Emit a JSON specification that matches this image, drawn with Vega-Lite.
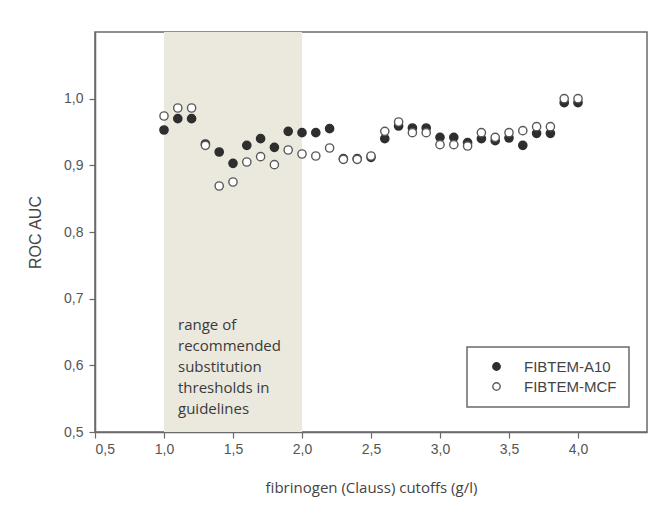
{
  "$schema": "https://vega.github.io/schema/vega-lite/v6.json",
  "autosize": {"type": "none"},
  "padding": {"left": 95, "top": 32, "right": 22, "bottom": 88},
  "width": 552,
  "height": 400,
  "background": "#ffffff",
  "datasets": {
    "band": [{"start": 1.0, "end": 2.0, "label": ["range of", "recommended", "substitution", "thresholds in", "guidelines"]}],
    "auc": [
      {"cutoff": 1.0, "series": "FIBTEM-A10", "auc": 0.953},
      {"cutoff": 1.1, "series": "FIBTEM-A10", "auc": 0.970},
      {"cutoff": 1.2, "series": "FIBTEM-A10", "auc": 0.970},
      {"cutoff": 1.3, "series": "FIBTEM-A10", "auc": 0.932},
      {"cutoff": 1.4, "series": "FIBTEM-A10", "auc": 0.920},
      {"cutoff": 1.5, "series": "FIBTEM-A10", "auc": 0.903},
      {"cutoff": 1.6, "series": "FIBTEM-A10", "auc": 0.930},
      {"cutoff": 1.7, "series": "FIBTEM-A10", "auc": 0.940},
      {"cutoff": 1.8, "series": "FIBTEM-A10", "auc": 0.927},
      {"cutoff": 1.9, "series": "FIBTEM-A10", "auc": 0.951},
      {"cutoff": 2.0, "series": "FIBTEM-A10", "auc": 0.949},
      {"cutoff": 2.1, "series": "FIBTEM-A10", "auc": 0.949},
      {"cutoff": 2.2, "series": "FIBTEM-A10", "auc": 0.955},
      {"cutoff": 2.3, "series": "FIBTEM-A10", "auc": 0.910},
      {"cutoff": 2.4, "series": "FIBTEM-A10", "auc": 0.910},
      {"cutoff": 2.5, "series": "FIBTEM-A10", "auc": 0.912},
      {"cutoff": 2.6, "series": "FIBTEM-A10", "auc": 0.940},
      {"cutoff": 2.7, "series": "FIBTEM-A10", "auc": 0.959},
      {"cutoff": 2.8, "series": "FIBTEM-A10", "auc": 0.956},
      {"cutoff": 2.9, "series": "FIBTEM-A10", "auc": 0.956},
      {"cutoff": 3.0, "series": "FIBTEM-A10", "auc": 0.942},
      {"cutoff": 3.1, "series": "FIBTEM-A10", "auc": 0.942},
      {"cutoff": 3.2, "series": "FIBTEM-A10", "auc": 0.934},
      {"cutoff": 3.3, "series": "FIBTEM-A10", "auc": 0.940},
      {"cutoff": 3.4, "series": "FIBTEM-A10", "auc": 0.937},
      {"cutoff": 3.5, "series": "FIBTEM-A10", "auc": 0.941},
      {"cutoff": 3.6, "series": "FIBTEM-A10", "auc": 0.930},
      {"cutoff": 3.7, "series": "FIBTEM-A10", "auc": 0.948},
      {"cutoff": 3.8, "series": "FIBTEM-A10", "auc": 0.948},
      {"cutoff": 3.9, "series": "FIBTEM-A10", "auc": 0.994},
      {"cutoff": 4.0, "series": "FIBTEM-A10", "auc": 0.994},
      {"cutoff": 1.0, "series": "FIBTEM-MCF", "auc": 0.974},
      {"cutoff": 1.1, "series": "FIBTEM-MCF", "auc": 0.986},
      {"cutoff": 1.2, "series": "FIBTEM-MCF", "auc": 0.986},
      {"cutoff": 1.3, "series": "FIBTEM-MCF", "auc": 0.930},
      {"cutoff": 1.4, "series": "FIBTEM-MCF", "auc": 0.869},
      {"cutoff": 1.5, "series": "FIBTEM-MCF", "auc": 0.875},
      {"cutoff": 1.6, "series": "FIBTEM-MCF", "auc": 0.905},
      {"cutoff": 1.7, "series": "FIBTEM-MCF", "auc": 0.913},
      {"cutoff": 1.8, "series": "FIBTEM-MCF", "auc": 0.901},
      {"cutoff": 1.9, "series": "FIBTEM-MCF", "auc": 0.923},
      {"cutoff": 2.0, "series": "FIBTEM-MCF", "auc": 0.917},
      {"cutoff": 2.1, "series": "FIBTEM-MCF", "auc": 0.914},
      {"cutoff": 2.2, "series": "FIBTEM-MCF", "auc": 0.926},
      {"cutoff": 2.3, "series": "FIBTEM-MCF", "auc": 0.909},
      {"cutoff": 2.4, "series": "FIBTEM-MCF", "auc": 0.909},
      {"cutoff": 2.5, "series": "FIBTEM-MCF", "auc": 0.914},
      {"cutoff": 2.6, "series": "FIBTEM-MCF", "auc": 0.951},
      {"cutoff": 2.7, "series": "FIBTEM-MCF", "auc": 0.965},
      {"cutoff": 2.8, "series": "FIBTEM-MCF", "auc": 0.949},
      {"cutoff": 2.9, "series": "FIBTEM-MCF", "auc": 0.949},
      {"cutoff": 3.0, "series": "FIBTEM-MCF", "auc": 0.931},
      {"cutoff": 3.1, "series": "FIBTEM-MCF", "auc": 0.931},
      {"cutoff": 3.2, "series": "FIBTEM-MCF", "auc": 0.929},
      {"cutoff": 3.3, "series": "FIBTEM-MCF", "auc": 0.949},
      {"cutoff": 3.4, "series": "FIBTEM-MCF", "auc": 0.942},
      {"cutoff": 3.5, "series": "FIBTEM-MCF", "auc": 0.949},
      {"cutoff": 3.6, "series": "FIBTEM-MCF", "auc": 0.952},
      {"cutoff": 3.7, "series": "FIBTEM-MCF", "auc": 0.958},
      {"cutoff": 3.8, "series": "FIBTEM-MCF", "auc": 0.958},
      {"cutoff": 3.9, "series": "FIBTEM-MCF", "auc": 1.000},
      {"cutoff": 4.0, "series": "FIBTEM-MCF", "auc": 1.000}
    ]
  },
  "layer": [
    {
      "data": {"name": "band"},
      "mark": {"type": "rect", "color": "#ebe8de"},
      "encoding": {
        "x": {"field": "start", "type": "quantitative", "scale": {"domain": [0.5, 4.5], "nice": false, "zero": false}},
        "x2": {"field": "end"}
      }
    },
    {
      "data": {"name": "band"},
      "mark": {"type": "text", "align": "left", "baseline": "top", "dx": 14, "font": "Open Sans", "fontSize": 15, "lineHeight": 21, "color": "#3a3a3a"},
      "encoding": {
        "x": {"field": "start", "type": "quantitative"},
        "y": {"datum": 0.671, "type": "quantitative"},
        "text": {"field": "label"}
      }
    },
    {
      "data": {"name": "auc"},
      "mark": {"type": "point", "filled": false, "size": 68, "strokeWidth": 1.4, "opacity": 1},
      "encoding": {
        "x": {"field": "cutoff", "type": "quantitative", "title": "fibrinogen (Clauss) cutoffs (g/l)",
              "axis": {"values": [0.5, 1, 1.5, 2, 2.5, 3, 3.5, 4], "labelExpr": "replace(format(datum.value, '.1f'), '.', ',')"}},
        "y": {"field": "auc", "type": "quantitative", "title": "ROC AUC",
              "scale": {"domain": [0.5, 1.1], "nice": false, "zero": false},
              "axis": {"values": [0.5, 0.6, 0.7, 0.8, 0.9, 1.0], "labelExpr": "replace(format(datum.value, '.1f'), '.', ',')"}},
        "fill": {"field": "series", "type": "nominal", "scale": {"domain": ["FIBTEM-A10", "FIBTEM-MCF"], "range": ["#2e2e2e", "#ffffff"]}, "legend": {"title": null}},
        "stroke": {"field": "series", "type": "nominal", "scale": {"domain": ["FIBTEM-A10", "FIBTEM-MCF"], "range": ["#2e2e2e", "#5a5a5a"]}, "legend": {"title": null}}
      }
    }
  ],
  "config": {
    "view": {"stroke": "#6a6a6a", "strokeWidth": 1.5},
    "axis": {
      "grid": false,
      "domainColor": "#6a6a6a",
      "domainWidth": 1.5,
      "tickColor": "#6a6a6a",
      "tickWidth": 1.2,
      "tickSize": 6,
      "labelFont": "Liberation Sans",
      "labelFontSize": 14,
      "labelColor": "#555555",
      "titleFontWeight": "normal",
      "titleColor": "#444444"
    },
    "axisX": {"labelPadding": 4, "titleFont": "Open Sans", "titleFontSize": 15, "titlePadding": 24},
    "axisY": {"labelPadding": 6, "titleFont": "Liberation Sans", "titleFontSize": 16, "titlePadding": 20},
    "legend": {
      "orient": "none",
      "legendX": 372,
      "legendY": 315,
      "strokeColor": "#6a6a6a",
      "strokeWidth": 1.5,
      "fillColor": "#ffffff",
      "padding": 12,
      "symbolOffset": 10,
      "symbolSize": 55,
      "symbolStrokeWidth": 1.4,
      "labelFont": "Liberation Sans",
      "labelFontSize": 15,
      "labelColor": "#444444",
      "labelOffset": 20,
      "rowPadding": 4
    }
  }
}
